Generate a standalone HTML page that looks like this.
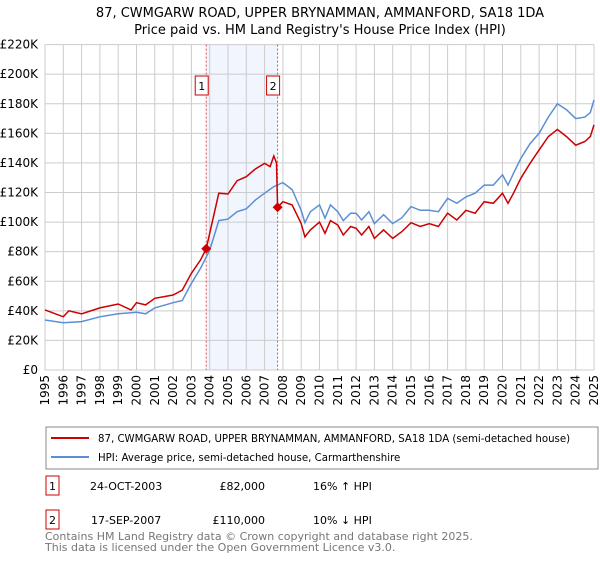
<!DOCTYPE html>
<html><head><meta charset="utf-8"><style>
body{margin:0;background:#fff;font-family:"Liberation Sans","DejaVu Sans",sans-serif;}
svg text{font-family:"DejaVu Sans","Liberation Sans",sans-serif;}
</style></head><body>
<svg id="c" width="600" height="560" xmlns="http://www.w3.org/2000/svg">
<text x="320" y="17" font-size="13" text-anchor="middle">87, CWMGARW ROAD, UPPER BRYNAMMAN, AMMANFORD, SA18 1DA</text>
<text x="320" y="34" font-size="13" text-anchor="middle">Price paid vs. HM Land Registry's House Price Index (HPI)</text>
<g id="grid"></g><g id="marks"></g>
<rect x="46" y="427" width="552" height="42" fill="none" stroke="#888"/>
<line x1="51" y1="438" x2="89" y2="438" stroke="#cc0000" stroke-width="2"/>
<text x="98" y="442" font-size="10.2">87, CWMGARW ROAD, UPPER BRYNAMMAN, AMMANFORD, SA18 1DA (semi-detached house)</text>
<line x1="51" y1="457" x2="89" y2="457" stroke="#5b8fd4" stroke-width="2"/>
<text x="98" y="461" font-size="10.2">HPI: Average price, semi-detached house, Carmarthenshire</text>
<g>
<rect x="46" y="476" width="13" height="19" fill="none" stroke="#cc0000"/>
<text x="52.5" y="490" font-size="11" text-anchor="middle">1</text>
<text x="90" y="490" font-size="11">24-OCT-2003</text>
<text x="265" y="490" font-size="11" text-anchor="end">£82,000</text>
<text x="313" y="490" font-size="11">16% ↑ HPI</text></g>
<g>
<rect x="46" y="510" width="13" height="19" fill="none" stroke="#cc0000"/>
<text x="52.5" y="524" font-size="11" text-anchor="middle">2</text>
<text x="91" y="524" font-size="11">17-SEP-2007</text>
<text x="265" y="524" font-size="11" text-anchor="end">£110,000</text>
<text x="313" y="524" font-size="11">10% ↓ HPI</text></g>
<text x="45" y="540" font-size="11" fill="#777">Contains HM Land Registry data © Crown copyright and database right 2025.</text>
<text x="45" y="551" font-size="11" fill="#777">This data is licensed under the Open Government Licence v3.0.</text>
</svg>
<script>
const yTicks=[0,20,40,60,80,100,120,140,160,180,200,220];
const xYears=[1995,1996,1997,1998,1999,2000,2001,2002,2003,2004,2005,2006,2007,2008,2009,2010,2011,2012,2013,2014,2015,2016,2017,2018,2019,2020,2021,2022,2023,2024,2025];
const hpiT=[1995,1996,1997,1998,1999,2000,2000.5,2001,2002,2002.5,2003,2003.5,2004,2004.5,2005,2005.5,2006,2006.5,2007,2007.5,2008,2008.5,2009,2009.2,2009.5,2010,2010.3,2010.6,2011,2011.3,2011.7,2012,2012.3,2012.7,2013,2013.5,2014,2014.5,2015,2015.5,2016,2016.5,2017,2017.5,2018,2018.5,2019,2019.5,2020,2020.3,2020.6,2021,2021.5,2022,2022.5,2023,2023.5,2024,2024.5,2024.8,2025];
const hpiV=[33.8,32,32.7,36,38,39,38,42,45.5,47,58.6,68.7,81,101,102,107,109,115,119.5,124,126.7,122,108,99.6,107,111.6,102.6,111.6,107,101,106,106,101.4,107,99,105,99,103,110.5,108,108,107,116,112.7,117,119.5,125,125,132,125,133,143,153,160,171,180,176,170,171,174,182.6];
const priceT=[1995,1996,1996.3,1997,1998,1999,1999.7,2000,2000.5,2001,2002,2002.5,2003,2003.5,2003.81,2004,2004.5,2005,2005.5,2006,2006.5,2007,2007.3,2007.5,2007.65,2007.71,2008,2008.5,2009,2009.2,2009.5,2010,2010.3,2010.6,2011,2011.3,2011.7,2012,2012.3,2012.7,2013,2013.5,2014,2014.5,2015,2015.5,2016,2016.5,2017,2017.5,2018,2018.5,2019,2019.5,2020,2020.3,2020.6,2021,2021.5,2022,2022.5,2023,2023.5,2024,2024.5,2024.8,2025];
const priceV=[40.6,36,40,38,42,44.6,40.6,45.5,44,48.5,50.7,54,65.4,74.4,82,92.4,119.5,119,128,130.7,136,139.7,137.5,144.7,140,110,113.8,111.6,99,90,94.7,100,92.4,101,98,91.3,97,95.8,91.3,97,89,94.7,89,93.6,99.6,97,99,97,106,101.4,108,106,113.8,112.7,119.5,112.7,119.5,129.6,139.7,148.8,157.8,162.7,157.8,152,154.5,157.8,165.7];
const saleT=[2003.81,2007.71];
const saleV=[82,110];
const saleLabels=["1","2"];
const NS="http://www.w3.org/2000/svg";
const X0=45,X1=594,Y0=370,Y1=44.6;
const xs=t=>X0+(t-1995)/30*(X1-X0);
const ys=v=>Y0-v/220*(Y0-Y1);
const g=document.getElementById('grid'),m=document.getElementById('marks');
function mk(tag,at,p){const e=document.createElementNS(NS,tag);for(const k in at)e.setAttribute(k,at[k]);p.appendChild(e);return e;}
let sh=mk('rect',{x:xs(saleT[0]),y:Y1,width:xs(saleT[1])-xs(saleT[0]),height:Y0-Y1,fill:'#eef3fc',opacity:0.8},g);


yTicks.forEach(v=>{
 let l=mk('line',{x1:X0,x2:X1,y1:ys(v),y2:ys(v),stroke:'#ccc'},g);
 
 
 let t=mk('text',{x:38,y:ys(v)+4,'font-size':12,'text-anchor':'end'},g);t.textContent='£'+(v?v+'K':'0');
 
 
});
xYears.forEach(yr=>{
 let l=mk('line',{x1:xs(yr),x2:xs(yr),y1:Y1,y2:Y0,stroke:'#ccc'},g);
 
 
 let t=mk('text',{x:0,y:0,'font-size':12,'text-anchor':'end',transform:`translate(${xs(yr)+4},375) rotate(-90)`},g);t.textContent=yr;
 
 
});
saleT.forEach((t,i)=>{
 let l=mk('line',{x1:xs(t),x2:xs(t),y1:Y1,y2:Y0,stroke:'#e05050','stroke-dasharray':'2,2'},m);
 
 
 let b=mk('rect',{x:xs(t)-11,y:76,width:13,height:19,fill:'#fff',stroke:'#cc0000'},m);
 
 
 let tx=mk('text',{x:xs(t)-4.5,y:90,'font-size':11,'text-anchor':'middle'},m);tx.textContent=saleLabels[i];
 
 
});
let hp=mk('path',{d:hpiT.map((t,i)=>(i?'L':'M')+xs(t).toFixed(1)+','+ys(hpiV[i]).toFixed(1)).join(''),fill:'none',stroke:'#5b8fd4','stroke-width':1.5},m);


let pp=mk('path',{d:priceT.map((t,i)=>(i?'L':'M')+xs(t).toFixed(1)+','+ys(priceV[i]).toFixed(1)).join(''),fill:'none',stroke:'#cc0000','stroke-width':1.5},m);


saleT.forEach((t,i)=>{
 let d=mk('rect',{x:xs(t)-3.5,y:ys(saleV[i])-3.5,width:7,height:7,fill:'#cc0000',transform:`rotate(45 ${xs(t)} ${ys(saleV[i])})`},m);
 
 
});
</script>
</body></html>
